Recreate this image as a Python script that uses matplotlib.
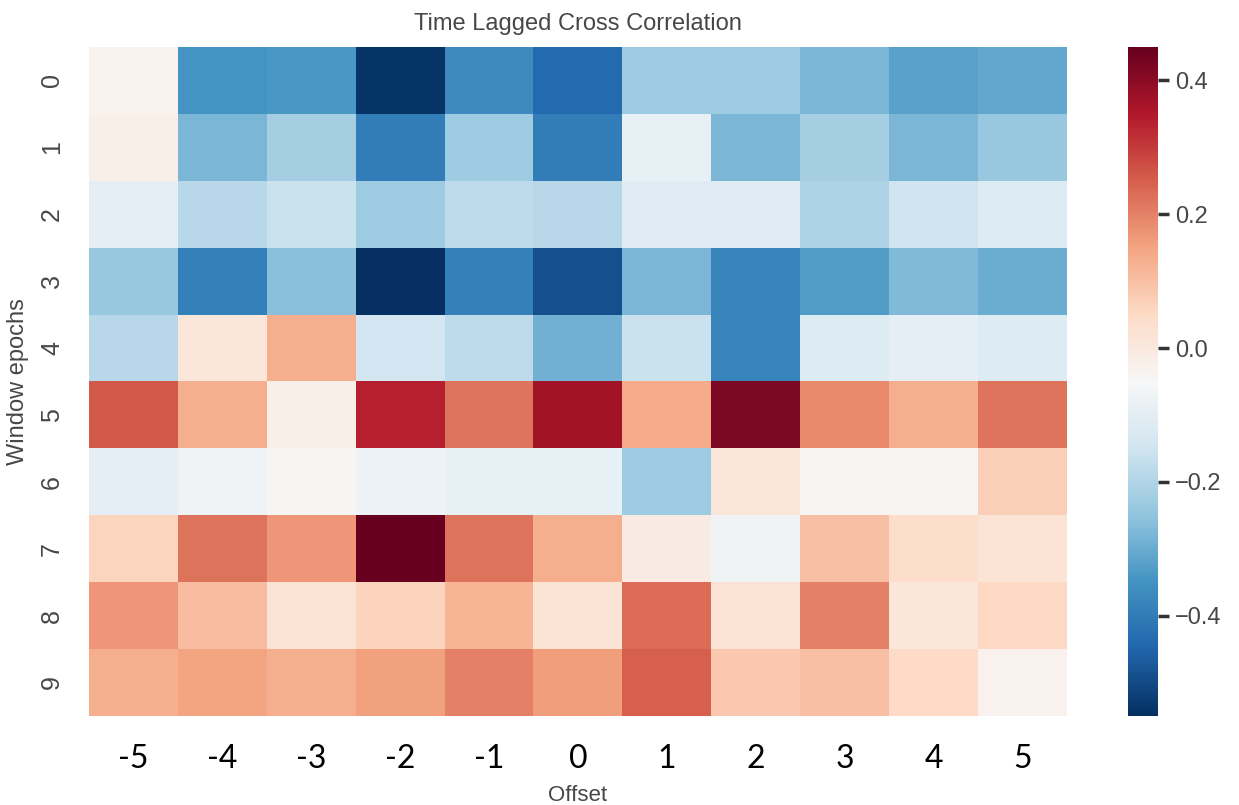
import numpy as np
import pandas as pd
import matplotlib
matplotlib.use("Agg")
import matplotlib.pyplot as plt
import seaborn as sns

offsets = [-5, -4, -3, -2, -1, 0, 1, 2, 3, 4, 5]
windows = [0, 1, 2, 3, 4, 5, 6, 7, 8, 9]

# cross correlation per window (rows) and lag offset (columns)
win_0 = [-0.03, -0.35, -0.34, -0.54, -0.37, -0.44, -0.23, -0.23, -0.28, -0.32, -0.31]
win_1 = [-0.02, -0.28, -0.22, -0.40, -0.23, -0.40, -0.09, -0.28, -0.22, -0.28, -0.24]
win_2 = [-0.10, -0.19, -0.16, -0.23, -0.18, -0.19, -0.11, -0.11, -0.21, -0.15, -0.12]
win_3 = [-0.24, -0.39, -0.26, -0.55, -0.39, -0.49, -0.28, -0.38, -0.33, -0.27, -0.30]
win_4 = [-0.19, 0.01, 0.13, -0.14, -0.18, -0.29, -0.16, -0.38, -0.12, -0.10, -0.12]
win_5 = [0.26, 0.13, -0.02, 0.34, 0.22, 0.37, 0.14, 0.42, 0.19, 0.13, 0.22]
win_6 = [-0.10, -0.07, -0.045, -0.08, -0.09, -0.09, -0.23, 0.01, -0.04, -0.04, 0.07]
win_7 = [0.06, 0.22, 0.17, 0.45, 0.22, 0.13, -0.01, -0.07, 0.10, 0.04, 0.02]
win_8 = [0.17, 0.105, 0.02, 0.065, 0.12, 0.02, 0.235, 0.02, 0.20, 0.01, 0.055]
win_9 = [0.13, 0.15, 0.13, 0.155, 0.20, 0.16, 0.25, 0.085, 0.10, 0.05, -0.03]

rs = pd.DataFrame([win_0, win_1, win_2, win_3, win_4, win_5, win_6, win_7, win_8, win_9],
                  index=windows, columns=offsets)

text_col = "#474747"
plt.rcParams["font.family"] = ["Liberation Sans", "DejaVu Sans"]

fig = plt.figure(figsize=(12.39, 8.05), dpi=100)
ax = fig.add_axes([0.0718, 0.1106, 0.7893, 0.831])
cax = fig.add_axes([0.9104, 0.1106, 0.0242, 0.831])

sns.heatmap(rs, cmap="RdBu_r", vmin=-0.55, vmax=0.45, ax=ax, cbar_ax=cax)

ax.set_title("Time Lagged Cross Correlation", fontsize=17, color=text_col, pad=12)
ax.set_xlabel("Offset", fontsize=16, color=text_col, labelpad=8)
ax.set_ylabel("Window epochs", fontsize=17, color=text_col, labelpad=8)

ax.tick_params(axis="both", length=0)
ax.set_xticklabels(offsets, fontsize=23, color="black", family="Lato", rotation=0)
ax.tick_params(axis="x", pad=20)
ax.set_yticklabels(windows, fontsize=18, color=text_col, rotation=90, va="center")
ax.tick_params(axis="y", pad=18)

cax.set_yticks([-0.4, -0.2, 0.0, 0.2, 0.4])
cax.tick_params(length=8, width=2.5, color="#333333", labelsize=17,
                labelcolor=text_col, pad=4)
for s in cax.spines.values():
    s.set_visible(False)

fig.savefig("out.png", dpi=100)
